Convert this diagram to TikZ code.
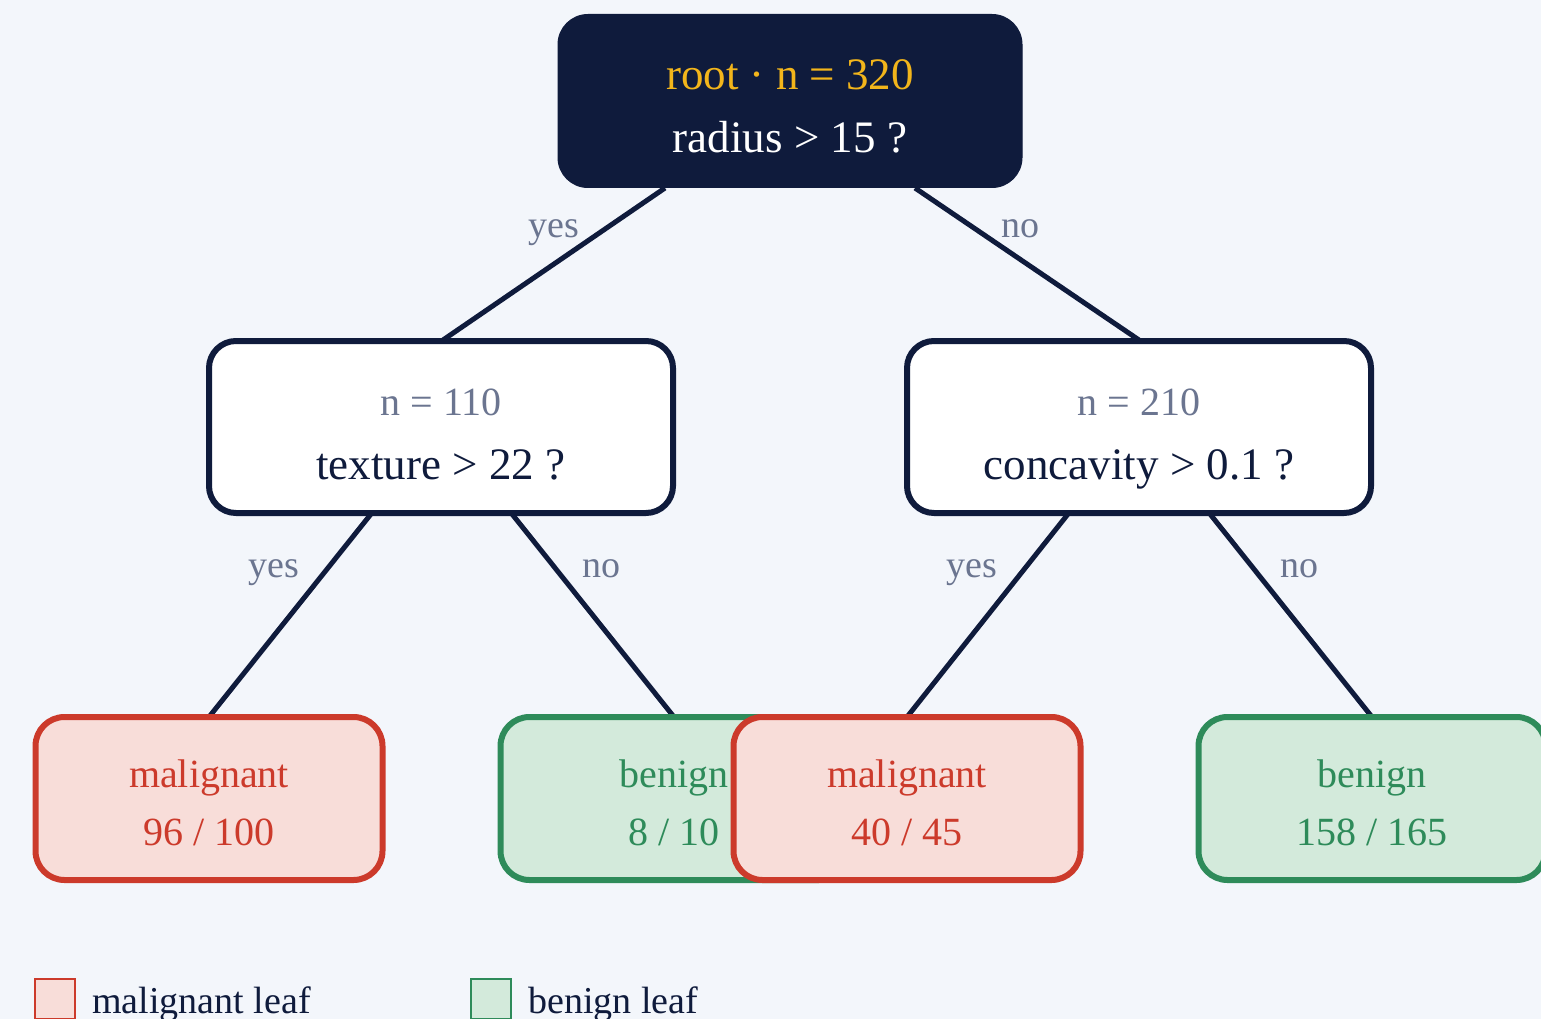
\documentclass[tikz,border=0pt]{standalone}
\usepackage{fontspec}
\setmainfont{Liberation Serif}
\usetikzlibrary{calc}

\definecolor{bgcol}{HTML}{F3F6FB}
\definecolor{navy}{HTML}{0F1B3C}
\definecolor{gold}{HTML}{F2B51B}
\definecolor{slate}{HTML}{6B7590}
\definecolor{redline}{HTML}{CC3A2B}
\definecolor{redfill}{HTML}{F8DDD9}
\definecolor{greenline}{HTML}{2E8B5A}
\definecolor{greenfill}{HTML}{D3EADB}

\tikzset{
  rootbox/.style={rectangle, rounded corners=30pt, fill=navy, draw=navy, line width=1pt,
    minimum width=464pt, minimum height=173pt, inner sep=0pt},
  splitbox/.style={rectangle, rounded corners=27pt, fill=white, draw=navy, line width=6pt,
    minimum width=464pt, minimum height=172pt, inner sep=0pt},
  badleaf/.style={rectangle, rounded corners=29pt, fill=redfill, draw=redline, line width=6pt,
    minimum width=347pt, minimum height=163pt, inner sep=0pt},
  goodleaf/.style={rectangle, rounded corners=29pt, fill=greenfill, draw=greenline, line width=6pt,
    minimum width=347pt, minimum height=163pt, inner sep=0pt},
  bigtxt/.style={anchor=base, inner sep=0pt, font=\fontsize{45}{50}\selectfont},
  midtxt/.style={anchor=base, inner sep=0pt, font=\fontsize{40}{46}\selectfont},
  edgetxt/.style={anchor=base, inner sep=0pt, text=slate, font=\fontsize{38}{44}\selectfont},
  branch/.style={draw=navy, line width=5pt},
  keybox/.style={rectangle, inner sep=0pt, minimum width=40pt, minimum height=40pt, line width=2pt},
}

\begin{document}
\begin{tikzpicture}[x=1pt, y=-1pt]
  % canvas
  \fill[bgcol] (0,0) rectangle (1541,1019);
  \useasboundingbox (0,0) rectangle (1541,1019);

  % branches (drawn first so boxes sit on top)
  \coordinate (rootL) at (665,188);
  \coordinate (rootR) at (915,188);
  \coordinate (tL) at (443,340);
  \coordinate (tR) at (1139,340);
  \coordinate (mlL) at (371,514);
  \coordinate (mlR) at (512,514);
  \coordinate (mrL) at (1068,514);
  \coordinate (mrR) at (1210,514);
  \coordinate (lf1) at (209,717);
  \coordinate (lf2) at (674,717);
  \coordinate (lf3) at (907,717);
  \coordinate (lf4) at (1372,717);
  \draw[branch] (rootL) -- (tL);
  \draw[branch] (rootR) -- (tR);
  \draw[branch] (mlL) -- (lf1);
  \draw[branch] (mlR) -- (lf2);
  \draw[branch] (mrL) -- (lf3);
  \draw[branch] (mrR) -- (lf4);

  % root split
  \node[rootbox] (root) at (790,101) {};
  \node[bigtxt, text=gold] (rootn) at (790,90) {root · n = 320};
  \node[bigtxt, text=white] (rootq) at (790,153) {radius > 15 ?};

  % second-level splits
  \node[splitbox] (left) at (441,427) {};
  \node[midtxt, text=slate] (leftn) at (441,415) {n = 110};
  \node[bigtxt, text=navy] (leftq) at (441,479) {texture > 22 ?};

  \node[splitbox] (right) at (1139,427) {};
  \node[midtxt, text=slate] (rightn) at (1139,415) {n = 210};
  \node[bigtxt, text=navy] (rightq) at (1139,479) {concavity > 0.1 ?};

  % branch labels
  \node[edgetxt] (y1) at (554,237) {yes};
  \node[edgetxt] (n1) at (1020,237) {no};
  \node[edgetxt] (y2) at (274,577) {yes};
  \node[edgetxt] (n2) at (601,577) {no};
  \node[edgetxt] (y3) at (972,577) {yes};
  \node[edgetxt] (n3) at (1299,577) {no};

  % leaves
  \node[badleaf] (leafA) at (209,798.5) {};
  \node[midtxt, text=redline] (leafAt) at (209,787) {malignant};
  \node[midtxt, text=redline] (leafAc) at (209,845) {96 / 100};

  \node[goodleaf] (leafB) at (674,798.5) {};
  \node[midtxt, text=greenline] (leafBt) at (674,787) {benign};
  \node[midtxt, text=greenline] (leafBc) at (674,845) {8 / 10};

  \node[badleaf] (leafC) at (907,798.5) {};
  \node[midtxt, text=redline] (leafCt) at (907,787) {malignant};
  \node[midtxt, text=redline] (leafCc) at (907,845) {40 / 45};

  \node[goodleaf] (leafD) at (1372,798.5) {};
  \node[midtxt, text=greenline] (leafDt) at (1372,787) {benign};
  \node[midtxt, text=greenline] (leafDc) at (1372,845) {158 / 165};

  % legend
  \node[keybox, fill=redfill, draw=redline] (keyA) at (55,999) {};
  \node[edgetxt, anchor=base west, text=navy] (keyAt) at (92,1013) {malignant leaf};
  \node[keybox, fill=greenfill, draw=greenline] (keyB) at (491,999) {};
  \node[edgetxt, anchor=base west, text=navy] (keyBt) at (528,1013) {benign leaf};
\end{tikzpicture}
\end{document}
